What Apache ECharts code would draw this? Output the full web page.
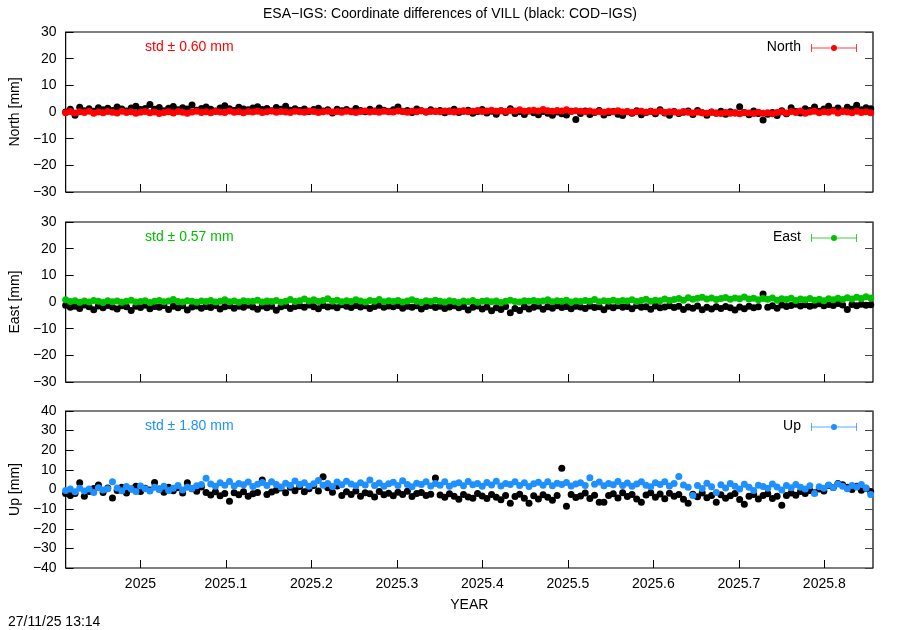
<!DOCTYPE html>
<html>
<head>
<meta charset="utf-8">
<script src="https://cdn.jsdelivr.net/npm/echarts@6/dist/echarts.min.js"></script>
<style>html,body{margin:0;padding:0;background:#fff}#c{width:900px;height:630px}</style>
</head>
<body>
<div id="c"></div>
<script>
// ---- data (2-day sampling, first epoch 2024.9125) ----
const startYear = 2024.9125;
const stepYear = 2 / 365.25;
const xTickValues = [2025, 2025.1, 2025.2, 2025.3, 2025.4, 2025.5, 2025.6, 2025.7, 2025.8];
const panelNames = ['North', 'East', 'Up'];
const stdTexts = ['std \u00b1 0.60 mm', 'std \u00b1 0.57 mm', 'std \u00b1 1.80 mm'];

const northESA = [
-0.3,0.2,-0.4,0.1,-0.2,0.3,-0.5,0.0,-0.3,0.2,
-0.1,-0.4,0.3,-0.2,0.1,-0.5,-0.1,0.2,-0.3,0.0,
-0.6,-0.2,0.1,-0.4,0.2,-0.1,-0.5,0.0,0.3,-0.2,
0.1,-0.3,0.2,0.0,-0.2,0.4,-0.1,0.1,-0.3,0.2,
0.0,0.3,-0.2,0.1,0.4,-0.1,0.2,0.0,-0.2,0.3,
0.1,-0.1,0.4,0.2,-0.2,0.1,0.3,0.0,0.2,-0.1,
0.3,0.1,-0.2,0.2,0.4,0.0,0.2,-0.1,0.3,0.1,
0.0,0.4,0.2,-0.1,0.3,0.1,0.5,0.0,0.2,0.3,
0.1,0.4,0.2,0.0,0.3,0.5,0.1,0.3,0.6,0.2,
0.4,0.7,0.3,0.5,0.2,0.6,0.4,0.8,0.3,0.5,
0.7,0.4,0.9,0.5,0.3,0.6,0.4,0.8,0.2,0.5,
0.3,0.1,0.4,0.0,0.2,-0.1,0.3,0.1,0.5,0.0,
0.2,-0.2,0.1,0.3,-0.1,0.2,0.0,0.4,-0.2,0.1,
0.0,-0.3,0.2,-0.1,-0.4,0.0,-0.3,-0.5,-0.1,-0.4,
-0.6,-0.2,-0.5,-0.3,-0.7,-0.2,-0.4,-0.6,-0.1,-0.5,
-0.3,-0.7,-0.2,0.1,-0.4,0.2,-0.2,0.4,-0.5,0.0,
0.3,-0.3,0.1,-0.1,0.4,-0.4,0.2,0.0,-0.3,0.3,
-0.2,0.1,-0.3];

const northCOD = [
0.0,1.0,-1.2,1.8,0.5,1.2,0.3,1.6,0.8,1.4,
0.6,1.9,1.1,0.4,1.5,2.2,0.9,1.3,2.8,1.0,
1.7,0.5,1.4,2.1,0.8,1.6,1.1,2.6,0.7,1.3,
1.9,1.0,0.4,1.5,2.3,1.2,0.6,1.8,1.1,0.8,
1.5,2.0,0.9,1.3,0.5,1.7,1.0,2.2,0.7,1.2,
0.6,1.1,0.2,0.9,1.4,0.4,0.8,-0.4,1.0,0.5,
0.9,0.3,1.3,0.6,0.1,1.0,0.4,1.5,0.7,0.2,
0.8,1.9,0.3,0.6,-0.2,1.1,0.5,0.0,0.8,0.3,
0.6,-0.3,0.4,1.0,-0.2,0.3,0.7,-0.5,0.2,0.9,
-0.4,0.3,-0.8,0.5,-0.2,1.2,-0.6,0.1,-0.9,0.4,
-0.3,-1.0,0.2,-0.5,-1.2,0.0,-0.7,-1.1,0.3,-2.8,
-0.6,0.4,-0.9,-0.2,0.6,-1.1,-0.3,0.2,-0.8,-1.3,
0.1,-0.5,0.5,-1.0,-0.2,0.3,-0.7,0.8,-0.4,-1.2,
0.2,-0.6,-0.1,0.4,-0.9,0.6,-0.3,-1.2,0.0,-0.5,
0.3,-0.8,0.1,-0.4,2.0,-0.2,-1.0,0.4,-0.6,-3.0,
-0.8,-0.2,-1.3,0.5,-0.7,1.6,0.2,-0.4,1.2,0.6,
1.9,0.3,1.1,2.2,0.7,1.5,0.4,1.8,1.0,2.5,
0.8,1.6,1.2];

const eastESA = [
0.8,0.2,0.5,-0.1,0.4,0.0,0.6,0.3,-0.2,0.5,
0.1,0.4,-0.1,0.3,0.7,0.0,0.2,0.5,-0.2,0.3,
0.6,0.1,0.4,0.9,0.2,0.0,0.5,0.3,-0.1,0.4,
0.2,0.6,0.0,0.3,0.8,0.1,0.4,-0.1,0.5,0.2,
0.3,0.7,0.0,0.4,0.2,0.6,-0.1,0.3,0.9,0.2,
0.5,1.1,0.4,0.8,0.2,0.6,1.2,0.3,0.7,0.1,
0.5,0.2,0.8,0.4,0.0,0.6,0.3,0.9,0.1,0.5,
0.2,0.6,0.0,0.4,0.8,0.3,-0.1,0.5,0.2,0.7,
0.3,0.0,0.5,0.2,-0.2,0.4,0.1,0.6,-0.1,0.3,
0.5,0.1,0.4,-0.2,0.3,0.7,0.2,0.0,0.5,0.3,
0.6,0.2,0.4,0.8,0.1,0.5,0.3,0.7,0.0,0.4,
0.2,0.6,0.3,0.9,0.1,0.5,0.3,0.7,0.2,0.6,
0.4,0.8,0.2,0.6,1.0,0.3,0.7,0.5,1.1,0.6,
0.9,1.3,0.7,1.6,1.0,1.4,1.8,1.1,1.5,0.9,
1.3,1.7,1.0,1.5,1.2,1.9,1.1,1.4,0.8,1.3,
1.0,1.5,0.7,1.2,0.9,1.4,0.6,1.1,0.8,1.3,
0.7,1.0,0.5,1.2,0.8,1.4,0.9,1.6,1.1,1.8,
1.3,2.0,1.5];

const eastCOD = [
-1.2,-2.0,-1.6,-2.4,-1.1,-1.8,-2.9,-1.5,-2.2,-1.3,
-1.9,-2.6,-1.4,-1.8,-3.2,-1.6,-2.1,-1.2,-2.5,-1.7,
-2.0,-1.3,-2.8,-1.6,-2.2,-1.4,-3.0,-1.9,-1.5,-2.3,
-1.7,-2.1,-1.3,-2.6,-1.8,-1.4,-2.3,-1.6,-2.0,-1.2,
-1.9,-2.7,-1.5,-2.2,-1.6,-3.1,-1.8,-1.3,-2.4,-1.7,
-1.4,-2.0,-1.1,-1.8,-2.5,-1.3,-1.9,-1.5,-2.2,-1.0,
-1.6,-2.1,-1.3,-1.9,-1.4,-2.4,-1.7,-1.2,-2.0,-1.5,
-1.8,-1.3,-2.3,-1.6,-2.0,-1.4,-2.6,-1.7,-1.3,-2.1,
-1.6,-2.4,-1.9,-1.4,-2.2,-1.7,-3.0,-2.0,-1.5,-2.6,
-1.9,-3.3,-2.2,-2.8,-1.7,-4.0,-2.4,-3.2,-1.8,-2.6,
-2.0,-1.5,-2.7,-1.8,-2.3,-1.4,-2.1,-1.7,-2.5,-1.6,
-1.9,-2.4,-1.5,-2.1,-1.8,-2.9,-1.6,-2.2,-1.4,-2.0,
-1.7,-2.5,-1.3,-2.0,-1.8,-2.7,-1.5,-2.2,-1.9,-1.4,
-2.1,-1.6,-2.8,-1.9,-2.3,-1.5,-2.9,-2.0,-2.6,-1.8,
-2.4,-1.7,-2.2,-3.0,-1.9,-2.5,-1.6,-2.2,-1.8,3.0,
-2.0,-1.4,-2.3,-1.1,-1.7,-1.3,-0.8,-1.5,-1.0,-1.6,
-1.2,-0.7,-1.4,-0.9,-1.3,-0.6,-1.1,-2.8,-0.9,-1.4,
-0.8,-1.2,-1.0];

const upESA = [
-0.5,0.3,-1.2,0.6,-0.8,0.2,-1.5,0.9,-0.3,0.4,
4.0,0.8,-0.6,1.5,0.2,-1.0,1.8,0.4,-0.8,1.1,
0.0,1.6,-0.5,0.7,2.0,-0.2,1.2,0.5,1.9,2.6,
5.7,2.8,1.6,3.5,2.2,4.1,1.8,3.0,2.4,3.8,
1.5,2.7,3.6,2.0,4.0,2.5,1.3,3.2,2.1,4.3,
2.6,3.4,1.7,2.9,4.6,2.2,3.1,1.5,3.8,2.4,
4.2,2.8,1.9,3.5,2.3,4.8,2.0,3.3,1.6,2.9,
3.7,2.1,4.4,2.6,1.4,3.2,2.5,4.0,1.8,3.0,
2.2,3.9,1.6,2.8,3.5,1.9,4.1,2.4,3.0,1.7,
3.6,2.3,4.2,1.8,3.1,2.6,3.9,2.0,3.4,1.5,
2.9,3.7,2.2,4.0,1.9,3.2,2.5,3.6,1.8,2.8,
3.4,2.1,6.0,2.7,3.8,1.9,3.1,2.4,4.1,2.0,
3.3,1.6,2.8,3.9,2.2,1.4,3.5,2.6,4.0,1.8,
3.0,6.6,2.3,1.2,-3.0,2.0,0.5,3.2,1.4,-1.5,
2.4,0.8,3.0,1.6,0.3,2.7,1.1,-0.5,2.2,1.5,
0.6,2.8,1.3,-0.2,2.0,0.9,2.5,1.2,0.2,1.9,
-2.0,1.4,0.6,2.3,1.0,2.8,1.6,0.4,2.1,1.3,
2.6,0.8,-2.5];

const upCOD = [
-2.0,-3.0,-2.0,3.5,-3.5,-1.0,0.5,2.3,-1.5,0.8,
-4.3,-0.5,1.2,-1.8,0.3,1.6,-1.0,0.7,-0.3,3.6,
0.2,-1.4,1.1,-0.6,0.9,-1.8,3.5,0.4,-0.9,1.3,
-1.5,-2.8,-1.2,-3.2,-2.0,-6.0,-1.6,-2.7,-1.1,-3.4,
-2.2,-1.5,4.8,-2.6,-1.3,-0.4,0.8,-1.7,1.2,-0.6,
1.5,-1.1,0.4,2.0,-0.8,6.5,0.9,-1.4,1.8,-3.0,
-1.2,-2.5,-0.8,-3.4,-1.6,-2.2,-3.8,-1.0,-2.7,-1.9,
-3.2,-1.4,-2.6,-0.9,-3.6,-2.1,-1.5,-3.0,-2.4,5.8,
-2.8,-4.0,-2.2,-3.5,-5.0,-2.6,-3.8,-4.4,-2.0,-3.3,
-4.6,-2.5,-3.9,-5.2,-3.0,-7.0,-3.6,-2.4,-4.5,-7.0,
-3.2,-4.8,-2.7,-3.9,-5.5,-3.0,10.8,-8.5,-2.6,-4.1,
-3.3,-1.8,-4.6,-2.9,-6.5,-6.5,-3.1,-2.2,-4.3,-1.7,
-3.6,-2.5,-4.9,-6.5,-2.8,-1.6,-3.9,-2.3,-4.7,-1.9,
-3.4,-2.6,-5.0,-7.0,-2.4,-3.7,-1.8,-4.2,-3.0,-6.5,
-2.7,-4.5,-3.2,-2.0,-5.1,-7.5,-3.4,-2.5,-4.8,-3.0,
-2.2,-4.6,-3.5,-8.0,-3.0,-1.8,-2.9,-1.0,-2.1,-0.5,
-1.6,0.2,-0.8,2.0,1.0,3.0,2.4,1.2,0.0,1.6,
-0.4,0.6,-1.0];

// ---- chart ----
const FONT = '"Liberation Sans", Arial, Helvetica, sans-serif';
const colors = ['#ff0000', '#00c000', '#1e90ff'];
const esaData = [northESA, eastESA, upESA];
const codData = [northCOD, eastCOD, upCOD];
const yRanges = [[-30, 30, 10], [-30, 30, 10], [-40, 40, 10]];
const grids = [
  {left: 64, top: 32, width: 809, height: 160},
  {left: 64, top: 222, width: 809, height: 160},
  {left: 64, top: 411, width: 809, height: 157}
];
const xMin = 2024.9125, xMax = 2025.857;

function pairs(arr) { return arr.map((v, i) => [startYear + i * stepYear, v]); }
const minus = v => String(v).replace('-', '\u2212');

const option = {
  backgroundColor: '#fff',
  animation: false,
  title: {
    text: 'ESA\u2212IGS: Coordinate differences of VILL (black: COD\u2212IGS)',
    left: 'center', top: 2,
    textStyle: {fontFamily: FONT, fontSize: 14, fontWeight: 'normal', color: '#000'}
  },
  grid: grids.map(g => Object.assign({show: true, borderColor: '#000', borderWidth: 1.2, backgroundColor: 'transparent'}, g)),
  xAxis: grids.map((g, k) => ({
    type: 'value', gridIndex: k, min: xMin, max: xMax,
    name: k === 2 ? 'YEAR' : '', nameLocation: 'middle', nameGap: 30,
    nameTextStyle: {fontFamily: FONT, fontSize: 14, color: '#000'},
    splitLine: {show: false},
    axisLine: {show: false, onZero: false},
    axisTick: {show: true, inside: true, length: 8, lineStyle: {color: '#000'}, customValues: xTickValues},
    axisLabel: {show: k === 2, fontFamily: FONT, fontSize: 14, color: '#000', margin: 9,
      customValues: xTickValues, formatter: v => String(Math.round(v * 10) / 10)}
  })),
  yAxis: [].concat(...grids.map((g, k) => [
    {
      type: 'value', gridIndex: k, min: yRanges[k][0], max: yRanges[k][1], interval: yRanges[k][2],
      position: 'left',
      name: panelNames[k] + ' [mm]', nameLocation: 'middle', nameGap: 42, nameRotate: 90,
      nameTextStyle: {fontFamily: FONT, fontSize: 14, color: '#000'},
      splitLine: {show: false}, axisLine: {show: false, onZero: false},
      axisTick: {show: true, inside: true, length: 8, lineStyle: {color: '#000'}},
      axisLabel: {fontFamily: FONT, fontSize: 14, color: '#000', margin: 9, formatter: minus}
    },
    {
      type: 'value', gridIndex: k, min: yRanges[k][0], max: yRanges[k][1], interval: yRanges[k][2],
      position: 'right',
      splitLine: {show: false}, axisLine: {show: false, onZero: false},
      axisTick: {show: true, inside: true, length: 8, lineStyle: {color: '#444'}},
      axisLabel: {show: false}
    }
  ])),
  series: [].concat(...grids.map((g, k) => [
    {
      name: 'COD\u2212IGS ' + panelNames[k], type: 'scatter', xAxisIndex: k, yAxisIndex: 2 * k,
      symbol: 'circle', symbolSize: 7, itemStyle: {color: '#000', opacity: 1},
      data: pairs(codData[k]), z: 2
    },
    {
      name: panelNames[k], type: 'scatter', xAxisIndex: k, yAxisIndex: 2 * k,
      symbol: 'circle', symbolSize: 7, itemStyle: {color: colors[k], opacity: 1},
      data: pairs(esaData[k]), z: 3
    }
  ])),
  graphic: [].concat(...grids.map((g, k) => {
    const y = g.top + 16;
    return [
      {type: 'text', left: 145, top: y - 8, style: {text: stdTexts[k], fill: colors[k], font: '14px ' + FONT}},
      {type: 'text', right: 900 - 801, top: y - 8, style: {text: panelNames[k], fill: '#000', font: '14px ' + FONT, textAlign: 'right'}},
      {type: 'line', shape: {x1: 811, y1: y, x2: 857, y2: y}, style: {stroke: colors[k], lineWidth: 1, opacity: 0.75}},
      {type: 'line', shape: {x1: 811.5, y1: y - 4, x2: 811.5, y2: y + 4}, style: {stroke: colors[k], lineWidth: 1, opacity: 0.75}},
      {type: 'line', shape: {x1: 856.5, y1: y - 4, x2: 856.5, y2: y + 4}, style: {stroke: colors[k], lineWidth: 1, opacity: 0.75}},
      {type: 'circle', shape: {cx: 834, cy: y, r: 3}, style: {fill: colors[k]}}
    ];
  }), [
    {type: 'text', left: 8, top: 615, style: {text: '27/11/25 13:14', fill: '#000', font: '14px ' + FONT}}
  ])
};

const chart = echarts.init(document.getElementById('c'), null, {renderer: 'canvas'});
chart.setOption(option);
</script>
</body>
</html>
